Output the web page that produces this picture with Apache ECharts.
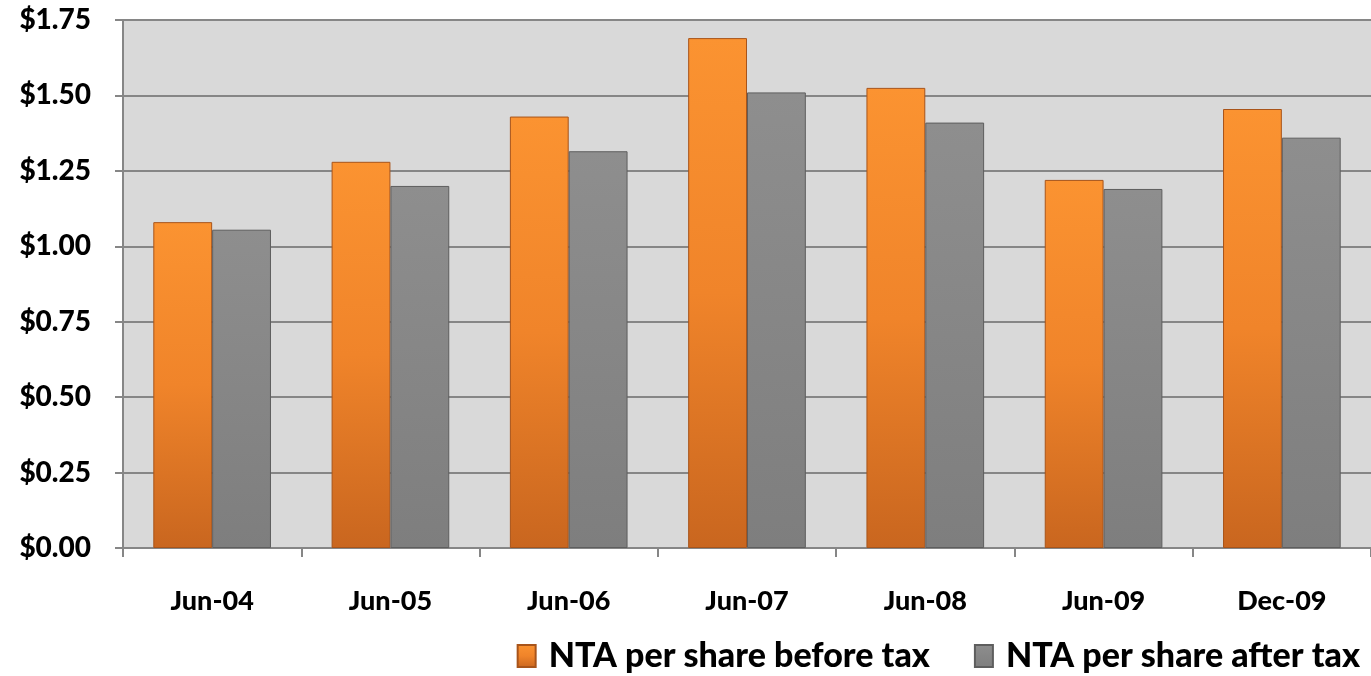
<!DOCTYPE html>
<html><head><meta charset="utf-8">
<script src="https://cdn.jsdelivr.net/npm/echarts@6/dist/echarts.min.js"></script>
<style>html,body{margin:0;padding:0;background:#fff}#c{width:1371px;height:676px}</style>
</head><body><div id="c"></div>
<script>
const categories = ['Jun-04','Jun-05','Jun-06','Jun-07','Jun-08','Jun-09','Dec-09'];
const beforeTax = [1.08, 1.28, 1.43, 1.69, 1.525, 1.22, 1.455];
const afterTax = [1.055, 1.20, 1.315, 1.51, 1.41, 1.19, 1.36];
const seriesNames = ['NTA per share before tax','NTA per share after tax'];

const FONT = 'Lato';
const orange = {type:'linear',x:0,y:0,x2:0,y2:1,colorStops:[{offset:0,color:'#fb9331'},{offset:0.5,color:'#f0842a'},{offset:1,color:'#c9661f'}]};
const gray = {type:'linear',x:0,y:0,x2:0,y2:1,colorStops:[{offset:0,color:'#8e8e8e'},{offset:1,color:'#7e7e7e'}]};
const chart = echarts.init(document.getElementById('c'));
chart.setOption({
  animation:false,
  grid:{left:123,right:0,top:20,bottom:128,backgroundColor:'#d9d9d9',show:true,borderWidth:0},
  legend:{right:6,bottom:-2,itemWidth:18,itemHeight:22,itemGap:44,icon:'rect',
    textStyle:{fontFamily:FONT,fontWeight:900,fontSize:34,color:'#000',padding:[0,0,0,8]},
    data:seriesNames},
  xAxis:{type:'category',data:categories,
    axisLine:{lineStyle:{color:'#868686',width:2}},
    axisTick:{show:true,length:9,lineStyle:{color:'#868686',width:2}},
    axisLabel:{margin:40,fontFamily:FONT,fontWeight:900,fontSize:27,color:'#000'}},
  yAxis:{type:'value',min:0,max:1.75,interval:0.25,
    axisLine:{show:true,lineStyle:{color:'#868686',width:2}},
    axisTick:{show:true,length:8,lineStyle:{color:'#868686',width:2}},
    splitLine:{lineStyle:{color:'#868686',width:2}},
    axisLabel:{margin:32,fontFamily:FONT,fontWeight:900,fontSize:28,color:'#000',
      formatter:v=>'$'+v.toFixed(2)}},
  series:[
    {name:seriesNames[0],type:'bar',data:beforeTax,barGap:'0%',barCategoryGap:'34%',
     itemStyle:{color:orange,borderColor:'#a8541a',borderWidth:1}},
    {name:seriesNames[1],type:'bar',data:afterTax,barGap:'0%',barCategoryGap:'34%',
     itemStyle:{color:gray,borderColor:'#5e5e5e',borderWidth:1}}
  ]
});
</script></body></html>
